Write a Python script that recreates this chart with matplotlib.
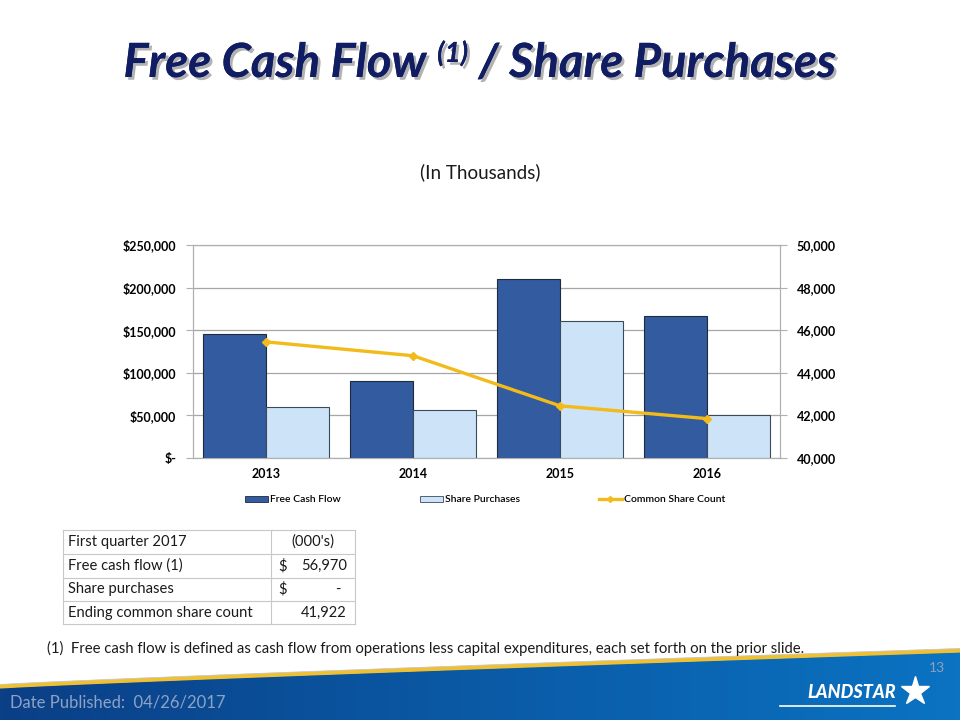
import numpy as np
import matplotlib

matplotlib.use("Agg")
import matplotlib.pyplot as plt
import matplotlib.patheffects as pe
from matplotlib.patches import Polygon
from matplotlib.lines import Line2D
from matplotlib.ticker import FuncFormatter

plt.rcParams["font.family"] = ["Lato", "DejaVu Sans"]

years = ["2013", "2014", "2015", "2016"]
free_cash_flow = [145000, 90000, 210000, 167000]
share_purchases = [60000, 56000, 161000, 50000]
share_count = [45450, 44800, 42450, 41850]

table_rows = ["First quarter 2017", "Free cash flow (1)", "Share purchases", "Ending common share count"]
table_dollar = ["", "$", "$", ""]
table_values = ["(000's)", "56,970", "-", "41,922"]

FCF_COLOR = "#335b9f"
SP_COLOR = "#cde4f8"
LINE_COLOR = "#f2bb1a"
NAVY = "#101d63"

fig = plt.figure(figsize=(9.6, 7.2), dpi=100, facecolor="white")

# full-figure overlay in pixel coords for decoration
bg = fig.add_axes([0, 0, 1, 1])
bg.set_xlim(0, 960)
bg.set_ylim(720, 0)
bg.axis("off")

# footer band with gradient
edge_x = np.linspace(0, 960, 60)
edge_y = 688 - 36 * (edge_x / 960) ** 0.9
band = Polygon(np.column_stack([np.r_[edge_x, 960, 0], np.r_[edge_y, 720, 720]]), closed=True,
               facecolor="none", edgecolor="none")
bg.add_patch(band)
grad = np.linspace(0, 1, 256).reshape(1, -1)
cmap = matplotlib.colors.LinearSegmentedColormap.from_list("band", ["#0b3f86", "#0a5aa6", "#0a73c2"])
im = bg.imshow(grad, extent=[0, 960, 720, 640], cmap=cmap, aspect="auto", zorder=1)
im.set_clip_path(band)
bg.plot(edge_x, edge_y - 1.5, color="#f0c030", lw=3.0, zorder=2, solid_capstyle="butt")
bg.plot(edge_x, edge_y - 3.5, color="#c8c8c8", lw=0.6, zorder=2)
bg.set_xlim(0, 960)
bg.set_ylim(720, 0)

bg.text(10, 703, "Date Published:  04/26/2017", color="#8ea3c4", fontsize=12, va="center", ha="left", zorder=3)
bg.text(945, 668, "13", color="#8da0bd", fontsize=10, va="center", ha="right", zorder=3)
bg.text(852, 693, "LANDSTAR", color="white", fontsize=13, fontweight="black", style="italic",
        va="center", ha="center", zorder=3)
bg.plot([780, 895], [706, 706], color="white", lw=1.2, zorder=3)
bg.plot([915], [691], marker="*", color="white", markersize=21, zorder=3)

# title with superscript
renderer = fig.canvas.get_renderer()
title_kw = dict(color=NAVY, fontweight="bold", style="italic", va="baseline", zorder=3,
                path_effects=[pe.withSimplePatchShadow(offset=(2, -2), shadow_rgbFace="#7f7f7f", alpha=0.6), pe.Normal()])
parts = [("Free Cash Flow ", 34, 0), ("(1)", 20, -15), (" / Share Purchases", 34, 0)]
texts = []
for s, size, dy in parts:
    t = bg.text(0, 77 + dy, s, fontsize=size, **title_kw)
    texts.append(t)
widths = [t.get_window_extent(renderer).width for t in texts]
x = 480 - sum(widths) / 2
for t, w in zip(texts, widths):
    t.set_x(x)
    x += w

bg.text(480, 172, "(In Thousands)", fontsize=13.5, ha="center", va="center", color="#1a1a1a")
bg.text(47, 648, "(1)  Free cash flow is defined as cash flow from operations less capital expenditures, each set forth on the prior slide.",
        fontsize=10.75, ha="left", va="center", color="#1a1a1a")

# table
tx0, tx1, tx2 = 63, 271, 355
ty = [530, 554, 578, 601, 624]
for yy in ty:
    bg.plot([tx0, tx2], [yy, yy], color="#c8c8c8", lw=0.8)
for xx in [tx0, tx1, tx2]:
    bg.plot([xx, xx], [ty[0], ty[-1]], color="#c8c8c8", lw=0.8)
for i, label in enumerate(table_rows):
    yc = (ty[i] + ty[i + 1]) / 2
    bg.text(tx0 + 5, yc, label, fontsize=10.6, ha="left", va="center", color="#1a1a1a")
    if i == 0:
        bg.text((tx1 + tx2) / 2, yc, table_values[i], fontsize=10.6, ha="center", va="center", color="#1a1a1a")
    else:
        if table_dollar[i]:
            bg.text(tx1 + 7, yc, table_dollar[i], fontsize=10.6, ha="left", va="center", color="#1a1a1a")
        xr = tx2 - 8 if table_values[i] != "-" else tx2 - 15
        bg.text(xr, yc, table_values[i], fontsize=10.6, ha="right", va="center", color="#1a1a1a")

# main chart
ax = fig.add_axes([193 / 960, 1 - 458 / 720, 587 / 960, 213 / 720])
x = np.arange(len(years))
w = 0.43
ax.bar(x - w / 2, free_cash_flow, w, color=FCF_COLOR, edgecolor="#1f2a3a", linewidth=0.8, zorder=3, label="Free Cash Flow")
ax.bar(x + w / 2, share_purchases, w, color=SP_COLOR, edgecolor="#3a4a5a", linewidth=0.8, zorder=3, label="Share Purchases")
ax.set_xlim(-0.5, len(years) - 0.5)
ax.set_ylim(0, 250000)
ax.set_yticks(np.arange(0, 250001, 50000))
ax.yaxis.set_major_formatter(FuncFormatter(lambda v, p: "$-" if v == 0 else f"${v:,.0f}"))
ax.set_xticks(x)
ax.set_xticklabels(years)
ax.grid(axis="y", color="#a6a6a6", lw=0.9, zorder=0)
for sp in ax.spines.values():
    sp.set_color("#b0b0b0")
ax.tick_params(axis="y", length=5, color="#b0b0b0", pad=7, labelsize=9)
ax.tick_params(axis="x", length=0, pad=7, labelsize=9)
for lbl in ax.get_yticklabels() + ax.get_xticklabels():
    lbl.set_fontweight("bold")

ax2 = ax.twinx()
ax2.plot(x, share_count, color=LINE_COLOR, lw=2.4, marker="D", markersize=4, zorder=4, label="Common Share Count")
ax2.set_ylim(40000, 50000)
ax2.set_yticks(np.arange(40000, 50001, 2000))
ax2.yaxis.set_major_formatter(FuncFormatter(lambda v, p: f"{v:,.0f}"))
for sp in ax2.spines.values():
    sp.set_color("#b0b0b0")
ax2.tick_params(axis="y", length=5, color="#b0b0b0", pad=7, labelsize=9)
for lbl in ax2.get_yticklabels():
    lbl.set_fontweight("bold")

handles = [
    plt.Rectangle((0, 0), 1, 1, facecolor=FCF_COLOR, edgecolor="#1f2a3a", lw=0.6),
    plt.Rectangle((0, 0), 1, 1, facecolor=SP_COLOR, edgecolor="#3a4a5a", lw=0.6),
    Line2D([0], [0], color=LINE_COLOR, lw=2.4, marker="D", markersize=3),
]
leg = fig.legend(handles, ["Free Cash Flow", "Share Purchases", "Common Share Count"], loc="center",
                 bbox_to_anchor=(485 / 960, 1 - 500 / 720), ncol=3, frameon=False, fontsize=7.5,
                 handlelength=2.2, handleheight=0.5, handletextpad=0.2, columnspacing=7.6)
for t in leg.get_texts():
    t.set_fontweight("semibold")

fig.savefig("out.png", dpi=100, facecolor="white")
